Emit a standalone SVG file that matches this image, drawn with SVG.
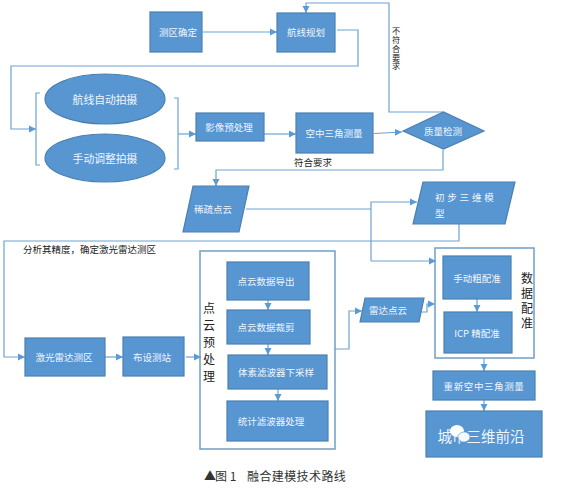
<svg xmlns="http://www.w3.org/2000/svg" width="561" height="494" viewBox="0 0 561 494">
<style>
.n{fill:#5896d2;stroke:#4a80b0;stroke-width:1.2}
.g{fill:#fff;stroke:#6f9fc6;stroke-width:1.5}
text{font-family:"Noto Sans CJK SC","Liberation Sans",sans-serif}
.t{fill:#eef5fb;font-size:9.500px;text-anchor:middle;dominant-baseline:central}
.b{fill:#222;font-size:9.500px}
.s{fill:#222;font-size:8.200px;writing-mode:vertical-rl;letter-spacing:.6px}
.v{fill:#222;font-size:12px;writing-mode:vertical-rl}
.c{fill:none;stroke:#6ba3d3;stroke-width:1.2}
.a{marker-end:url(#ah)}
</style>
<defs>
<marker id="ah" markerUnits="userSpaceOnUse" markerWidth="8" markerHeight="8" refX="7" refY="4" orient="auto"><path d="M0 0.5L7 4L0 7.5Z" fill="#5b9bd5"/></marker>
</defs>
<rect width="561" height="494" fill="#fff"/>
<g id="group-pointcloud"><rect class="g" x="200" y="251" width="135" height="198"/><text class="v" x="209" y="302" style="letter-spacing:5.200px">点云预处理</text></g>
<g id="group-registration"><rect class="g" x="435" y="248" width="99" height="110"/><text class="v" x="527" y="272" style="letter-spacing:3.200px">数据配准</text></g>
<g id="connectors">
<path class="c a" d="M203 32H277"/>
<path class="c a" d="M337 30H358V66H11V129H36"/>
<path class="c a" d="M443 112H389V3H306V13"/>
<path class="c" d="M40 93H36V165H40"/>
<path class="c" d="M174 98H178V169H174"/>
<path class="c a" d="M178 134H196"/>
<path class="c a" d="M264 134H296"/>
<path class="c a" d="M374 133.500L402 132"/>
<path class="c a" d="M443 150V170H216V186"/>
<path class="c" d="M246 209H371"/>
<path class="c a" d="M371 261V202H417"/>
<path class="c a" d="M371 261H436"/>
<path class="c a" d="M459 224V241H4V357H25"/>
<path class="c a" d="M105 357H123"/>
<path class="c a" d="M186 357H201"/>
<path class="c a" d="M268 300V310"/>
<path class="c a" d="M268 344V355"/>
<path class="c a" d="M278 389V401"/>
<path class="c a" d="M335 349H349V311H362"/>
<path class="c a" d="M421 312H427V304H435"/>
<path class="c a" d="M477 299V312"/>
<path class="c a" d="M484 358V371"/>
<path class="c a" d="M484 400V411"/>
</g>
<g id="n1"><rect class="n" x="150" y="12" width="52" height="40"/><text class="t" x="178" y="32">测区确定</text></g>
<g id="n2"><rect class="n" x="277" y="13" width="58" height="39"/><text class="t" x="306" y="32">航线规划</text></g>
<g id="n3"><ellipse class="n" cx="105" cy="99" rx="60" ry="25"/><text class="t" x="105" y="99" style="font-size:10.800px">航线自动拍摄</text></g>
<g id="n4"><ellipse class="n" cx="105" cy="158" rx="60" ry="24"/><text class="t" x="105" y="158" style="font-size:10.800px">手动调整拍摄</text></g>
<g id="n5"><rect class="n" x="196" y="113" width="68" height="28"/><text class="t" x="229" y="127">影像预处理</text></g>
<g id="n6"><rect class="n" x="296" y="113" width="77" height="40"/><text class="t" x="334" y="133">空中三角测量</text></g>
<g id="n7"><path class="n" d="M403 131L443.500 112L484 131L443.500 149Z"/><text class="t" x="443" y="131">质量检测</text></g>
<g id="n8"><path class="n" d="M183 232L193 186H249L239 232Z"/><text class="t" x="213" y="209">稀疏点云</text></g>
<g id="n9"><path class="n" d="M413 224L423 182H515L505 224Z"/><text class="t" x="435" y="197" style="letter-spacing:2.800px;text-anchor:start">初步三维模</text><text class="t" x="435" y="213" style="text-anchor:start">型</text></g>
<g id="n10"><rect class="n" x="25" y="338" width="80" height="38"/><text class="t" x="64" y="357">激光雷达测区</text></g>
<g id="n11"><rect class="n" x="123" y="337" width="61" height="39"/><text class="t" x="152" y="357">布设测站</text></g>
<g id="n12"><rect class="n" x="227" y="262" width="82" height="38"/><text class="t" x="266" y="281">点云数据导出</text></g>
<g id="n13"><rect class="n" x="227" y="310" width="83" height="34"/><text class="t" x="266" y="327">点云数据裁剪</text></g>
<g id="n14"><rect class="n" x="228" y="355" width="99" height="34"/><text class="t" x="276" y="372">体素滤波器下采样</text></g>
<g id="n15"><rect class="n" x="227" y="401" width="101" height="40"/><text class="t" x="271" y="421">统计滤波器处理</text></g>
<g id="n16"><path class="n" d="M360 322L365 298H424L419 322Z"/><text class="t" x="388" y="310">雷达点云</text></g>
<g id="n17"><rect class="n" x="443" y="256" width="68" height="43"/><text class="t" x="477" y="278">手动粗配准</text></g>
<g id="n18"><rect class="n" x="444" y="312" width="68" height="41"/><text class="t" x="477" y="333">ICP 精配准</text></g>
<g id="n19"><rect class="n" x="433" y="371" width="102" height="29"/><text class="t" x="484" y="386" style="letter-spacing:.6px">重新空中三角测量</text></g>
<g id="n20"><rect class="n" x="426" y="411" width="116" height="46"/><text class="t" x="481" y="435" style="font-size:14.500px">城市三维前沿</text>
<ellipse cx="457" cy="431" rx="7" ry="6" fill="#fff"/><ellipse cx="464" cy="437" rx="6" ry="5" fill="#f4f8fb" stroke="#5896d2" stroke-width=".6"/></g>
<g id="labels">
<text class="b" x="23" y="253">分析其精度，确定激光雷达测区</text>
<text class="b" x="294" y="166">符合要求</text>
<text class="s" x="396" y="27">不符合要求</text>
<text y="481" fill="#333" font-size="12px"><tspan x="204">▲</tspan><tspan x="215">图 1</tspan><tspan x="247" style="letter-spacing:.4px">融合建模技术路线</tspan></text>
</g>
</svg>
